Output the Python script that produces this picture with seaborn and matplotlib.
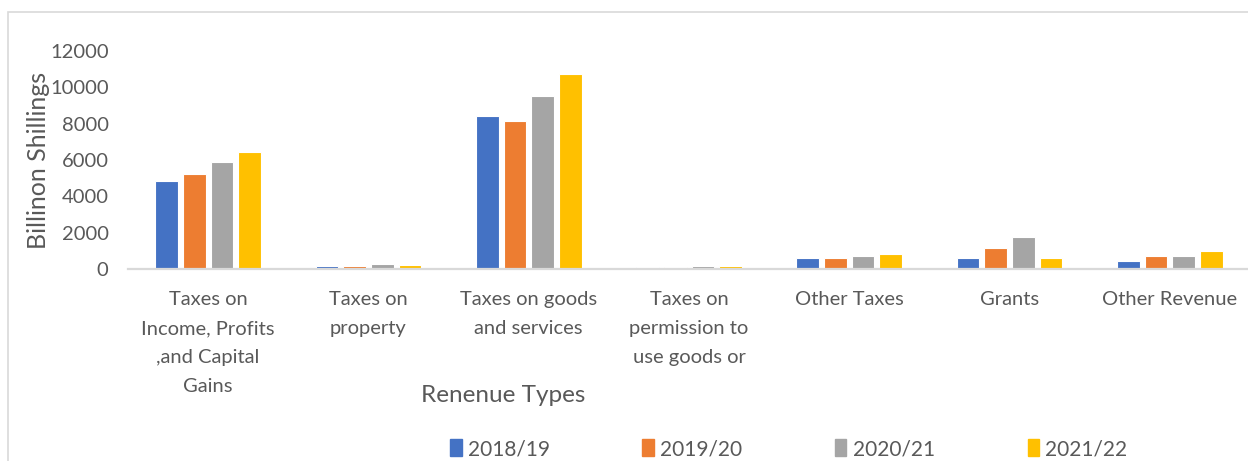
import matplotlib
matplotlib.use("Agg")
import matplotlib.pyplot as plt
import seaborn as sns
import pandas as pd
from matplotlib.patches import Rectangle

categories = ["Taxes on\nIncome, Profits\n,and Capital\nGains", "Taxes on\nproperty",
              "Taxes on goods\nand services", "Taxes on\npermission to\nuse goods or",
              "Other Taxes", "Grants", "Other Revenue"]
years = ["2018/19", "2019/20", "2020/21", "2021/22"]
v2018 = [4850, 160, 8420, 110, 600, 600, 460]
v2019 = [5260, 150, 8150, 90, 580, 1150, 730]
v2020 = [5890, 250, 9540, 180, 730, 1780, 730]
v2021 = [6440, 240, 10730, 180, 800, 590, 1010]
colors = ["#4472C4", "#ED7D31", "#A5A5A5", "#FFC000"]

rows = []
for y, vals in zip(years, [v2018, v2019, v2020, v2021]):
    for c, v in zip(categories, vals):
        rows.append({"cat": c, "year": y, "value": v})
df = pd.DataFrame(rows)

sns.set_theme(style="white")
plt.rcParams['font.family'] = ['Lato', 'DejaVu Sans']
fig = plt.figure(figsize=(12.48, 4.61), dpi=100)
ax = fig.add_axes([0.1026, 0.4165, 0.899, 0.4725])
sns.barplot(data=df, x="cat", y="value", hue="year", palette=colors, order=categories,
            hue_order=years, width=0.69, gap=0.18, edgecolor="white", linewidth=0.8, ax=ax,
            saturation=1)
ax.set_ylim(0, 12000)
ax.set_yticks(range(0, 12001, 2000))
ax.tick_params(axis='y', length=0, pad=14, labelsize=14.5, labelcolor="#595959")
ax.tick_params(axis='x', length=0, pad=16, labelsize=14.5, labelcolor="#595959")
for lbl in ax.get_xticklabels():
    lbl.set_linespacing(1.85)
    lbl.set_verticalalignment('top')
for s in ["top", "right", "left"]:
    ax.spines[s].set_visible(False)
ax.spines["bottom"].set_color("#d9d9d9")
ax.spines["bottom"].set_linewidth(1.6)
ax.set_xlabel("")
ax.set_ylabel("Billinon Shillings", fontsize=18, color="#595959")
ax.yaxis.set_label_coords(-0.07, 0.5)
ax.legend_.remove()
fig.text(503/1248, 1-395/461, "Renenue Types", fontsize=17.5, color="#595959", ha="center", va="center")
handles = [Rectangle((0, 0), 1, 1, color=c) for c in colors]
fig.legend(handles, years, loc="center", bbox_to_anchor=(0.632, 1-449/461), ncol=4, frameon=False,
           fontsize=15, labelcolor="#595959", handlelength=0.55, handleheight=0.9,
           handletextpad=0.3, columnspacing=4.45)
fig.add_artist(Rectangle((8/1248, -0.1), 1.2, 1 - 12/461 + 0.1, transform=fig.transFigure,
                         fill=False, edgecolor="#d9d9d9", linewidth=1.2))
fig.savefig("out.png", dpi=100)
